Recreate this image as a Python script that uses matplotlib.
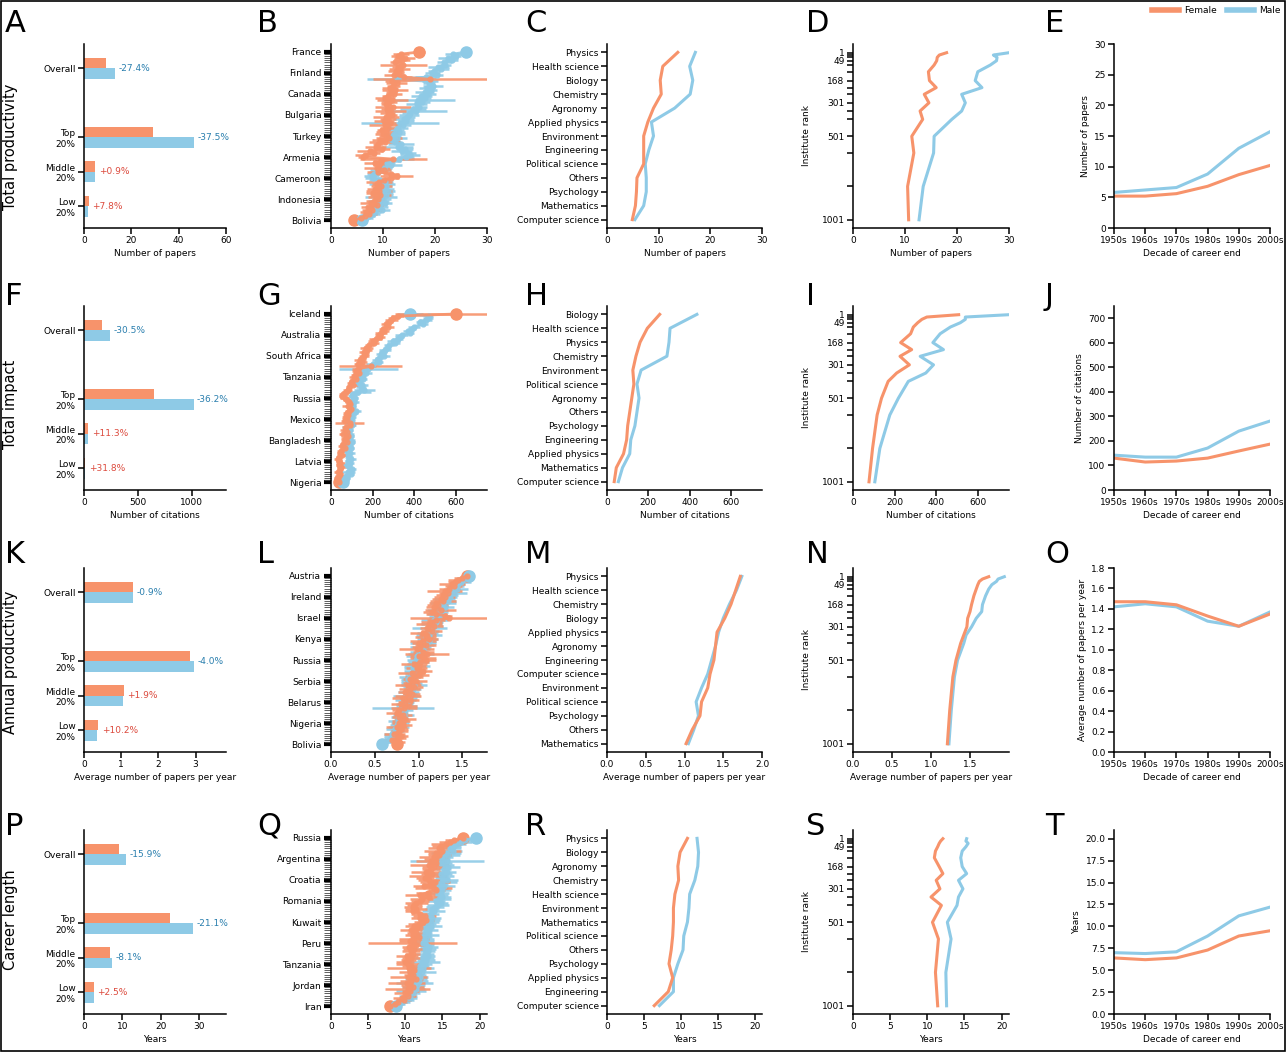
import matplotlib
matplotlib.use('Agg')
import matplotlib.pyplot as plt
import numpy as np
from matplotlib.lines import Line2D
from matplotlib.patches import Rectangle

FEM = '#f7936b'
MAL = '#8ecae6'
NEG = '#2a7fae'
POS = '#dc4a3d'

plt.rcParams['font.family'] = 'DejaVu Sans'
plt.rcParams['font.size'] = 6.5

# ---------------- bar panels (A, F, K, P) ----------------
bar_labels = ['Overall', 'Top\n20%', 'Middle\n20%', 'Low\n20%']
bar_pos = [4, 2, 1, 0]

papers_f = [9.5, 29.0, 4.85, 1.95]
papers_m = [13.1, 46.3, 4.8, 1.8]
papers_pct = ['-27.4%', '-37.5%', '+0.9%', '+7.8%']

cites_f = [165, 650, 38, 10]
cites_m = [238, 1018, 34, 7.6]
cites_pct = ['-30.5%', '-36.2%', '+11.3%', '+31.8%']

annual_f = [1.32, 2.85, 1.07, 0.38]
annual_m = [1.33, 2.97, 1.05, 0.345]
annual_pct = ['-0.9%', '-4.0%', '+1.9%', '+10.2%']

career_f = [9.2, 22.3, 6.7, 2.6]
career_m = [10.9, 28.3, 7.3, 2.5]
career_pct = ['-15.9%', '-21.1%', '-8.1%', '+2.5%']

# ---------------- country panels (B, G, L, Q) ----------------
countries_B = ['France', 'Finland', 'Canada', 'Bulgaria', 'Turkey', 'Armenia', 'Cameroon', 'Indonesia', 'Bolivia']
B_f = [17.0, 13.5, 12.8, 14.2, 13.6, 12.4, 13.9, 12.9, 13.2, 12.5,
       13.0, 12.2, 14.0, 19.0, 11.8, 12.6, 12.0, 11.3, 12.4, 11.6,
       12.1, 11.0, 10.4, 11.8, 11.2, 10.6, 11.9, 10.8, 11.4, 10.9,
       11.7, 10.5, 11.0, 10.2, 11.3, 10.4, 10.9, 9.8, 10.6, 10.0,
       10.5, 11.2, 9.4, 10.3, 9.0, 8.6, 9.9, 7.5, 8.2, 6.6,
       6.2, 12.0, 9.6, 8.4, 9.2, 8.9, 10.1, 9.0, 11.5, 12.6,
       11.6, 10.2, 9.3, 8.8, 9.7, 8.5, 9.2, 8.0, 9.5, 8.7,
       9.1, 8.3, 7.6, 8.8, 7.2, 7.9, 6.8, 7.4, 6.5, 5.8,
       4.5]
B_f_err = [1.0, 1.5, 1.2, 2.0, 1.5, 1.0, 4.5, 1.2, 2.0, 1.5,
           1.0, 2.0, 1.5, 11.0, 1.5, 2.0, 1.2, 1.5, 2.5, 1.0,
           1.5, 1.2, 2.0, 3.0, 1.5, 1.0, 3.5, 1.2, 3.0, 1.5,
           1.0, 2.5, 1.5, 2.0, 1.2, 3.0, 1.5, 1.0, 2.0, 1.5,
           1.2, 2.5, 1.5, 3.0, 1.0, 2.0, 1.5, 2.5, 1.2, 2.0,
           1.0, 6.5, 1.5, 2.0, 1.2, 2.5, 1.5, 2.0, 1.5, 3.2,
           1.5, 1.2, 2.5, 1.0, 2.0, 1.5, 2.5, 1.2, 2.0, 1.5,
           1.0, 1.5, 2.0, 1.2, 1.5, 2.0, 1.2, 1.5, 1.0, 1.2,
           0.5]
B_m = [26.0, 23.5, 24.0, 22.5, 23.2, 21.8, 22.0, 20.6, 21.2, 19.8,
       19.5, 20.4, 18.2, 12.5, 19.0, 18.8, 19.6, 18.5, 19.2, 18.0,
       18.6, 17.4, 18.0, 16.8, 17.5, 16.5, 17.0, 15.8, 16.4, 15.2,
       15.0, 14.6, 14.0, 14.4, 13.2, 13.8, 12.8, 12.5, 13.0, 12.2,
       12.0, 12.6, 11.8, 12.3, 13.5, 12.8, 14.2, 13.6, 14.8, 15.2,
       14.4, 13.0, 11.5, 10.8, 11.6, 10.2, 9.5, 8.8, 8.2, 7.8,
       8.0, 9.4, 10.4, 9.8, 10.6, 10.1, 10.9, 9.9, 10.5, 9.6,
       10.0, 9.2, 10.3, 9.5, 8.9, 9.8, 8.4, 8.0, 7.4, 6.8,
       6.0]
B_m_err = [1.0, 1.5, 1.0, 2.0, 1.2, 1.5, 1.0, 2.0, 1.5, 1.2,
           1.5, 1.2, 2.0, 5.5, 1.5, 1.2, 2.0, 1.5, 1.2, 1.8,
           1.5, 2.0, 1.2, 7.0, 1.5, 2.0, 1.5, 2.5, 6.0, 1.5,
           2.0, 1.5, 2.0, 1.5, 7.5, 1.5, 2.0, 1.5, 1.2, 2.0,
           1.5, 2.0, 1.5, 1.2, 2.5, 3.0, 1.5, 2.0, 1.5, 2.0,
           1.5, 3.0, 2.0, 1.5, 2.0, 1.5, 2.0, 1.5, 1.2, 1.5,
           1.5, 2.0, 1.5, 2.5, 1.2, 2.0, 1.5, 2.0, 1.5, 3.0,
           1.5, 2.0, 1.5, 1.2, 2.0, 1.5, 1.2, 1.5, 1.0, 1.2,
           0.6]

countries_G = ['Iceland', 'Australia', 'South Africa', 'Tanzania', 'Russia', 'Mexico', 'Bangladesh', 'Latvia', 'Nigeria']
G_f = [600, 320, 300, 290, 280, 265, 275, 250, 255, 240,
       230, 235, 215, 200, 205, 185, 170, 175, 160, 165,
       160, 150, 140, 150, 130, 190, 130, 120, 135, 115,
       110, 120, 100, 95, 105, 85, 80, 70, 60, 55,
       65, 75, 85, 90, 80, 95, 85, 75, 80, 70,
       75, 65, 90, 90, 70, 65, 75, 60, 80, 70,
       65, 75, 60, 55, 65, 50, 45, 55, 40, 35,
       40, 45, 38, 50, 42, 35, 45, 38, 30, 35,
       40]
G_f_err = [290, 30, 25, 30, 20, 25, 30, 20, 25, 30,
           20, 25, 30, 20, 25, 20, 30, 20, 25, 20,
           25, 20, 30, 25, 20, 150, 30, 20, 25, 20,
           25, 20, 15, 20, 25, 15, 20, 15, 20, 15,
           20, 15, 20, 15, 25, 20, 20, 15, 20, 15,
           20, 15, 70, 25, 15, 20, 15, 20, 15, 20,
           15, 20, 15, 20, 15, 20, 15, 20, 15, 20,
           15, 20, 15, 20, 15, 20, 15, 20, 15, 20,
           15]
G_m = [380, 470, 465, 455, 430, 440, 400, 390, 370, 380,
       340, 330, 320, 300, 310, 280, 270, 260, 250, 240,
       255, 230, 220, 230, 200, 190, 180, 160, 170, 150,
       145, 155, 130, 135, 150, 145, 160, 130, 110, 100,
       115, 105, 110, 95, 105, 100, 120, 110, 95, 100,
       90, 95, 85, 100, 80, 90, 75, 85, 95, 80,
       90, 100, 85, 80, 95, 75, 90, 80, 85, 95,
       80, 90, 75, 85, 100, 80, 95, 70, 75, 65,
       60]
G_m_err = [60, 20, 25, 30, 20, 25, 30, 20, 25, 20,
           30, 20, 25, 30, 20, 25, 20, 30, 20, 25,
           30, 20, 25, 20, 30, 25, 140, 20, 25, 20,
           25, 20, 25, 20, 30, 25, 50, 60, 25, 20,
           15, 20, 25, 20, 15, 20, 25, 20, 15, 20,
           25, 20, 15, 20, 25, 15, 20, 25, 15, 20,
           25, 15, 20, 25, 15, 20, 25, 15, 20, 25,
           15, 20, 25, 15, 20, 35, 15, 20, 15, 20,
           15]

countries_L = ['Austria', 'Ireland', 'Israel', 'Kenya', 'Russia', 'Serbia', 'Belarus', 'Nigeria', 'Bolivia']
L_f = [1.55, 1.50, 1.45, 1.42, 1.38, 1.40, 1.35, 1.30, 1.33, 1.28,
       1.30, 1.25, 1.28, 1.20, 1.22, 1.18, 1.25, 1.15, 1.20, 1.30,
       1.35, 1.20, 1.15, 1.12, 1.18, 1.10, 1.15, 1.05, 1.10, 1.08,
       1.12, 1.05, 1.00, 1.08, 1.02, 0.98, 1.05, 1.10, 1.00, 1.05,
       1.08, 1.02, 0.95, 1.00, 0.98, 1.05, 0.92, 1.00, 0.95, 0.90,
       0.97, 0.92, 0.88, 0.95, 0.90, 0.85, 0.92, 0.88, 0.82, 0.90,
       0.85, 0.80, 0.88, 0.83, 0.78, 0.75, 0.82, 0.78, 0.85, 0.80,
       0.78, 0.82, 0.75, 0.80, 0.78, 0.72, 0.80, 0.76, 0.70, 0.78,
       0.75]
L_f_err = [0.05, 0.10, 0.12, 0.08, 0.15, 0.10, 0.12, 0.20, 0.10, 0.08,
           0.12, 0.10, 0.15, 0.08, 0.12, 0.10, 0.18, 0.10, 0.12, 0.08,
           0.45, 0.10, 0.12, 0.15, 0.10, 0.08, 0.12, 0.15, 0.10, 0.12,
           0.10, 0.15, 0.08, 0.12, 0.10, 0.20, 0.12, 0.25, 0.10, 0.15,
           0.12, 0.10, 0.15, 0.08, 0.12, 0.10, 0.15, 0.12, 0.10, 0.08,
           0.12, 0.10, 0.15, 0.10, 0.12, 0.08, 0.10, 0.15, 0.12, 0.10,
           0.08, 0.12, 0.10, 0.15, 0.08, 0.12, 0.10, 0.08, 0.12, 0.10,
           0.08, 0.10, 0.12, 0.08, 0.10, 0.12, 0.08, 0.10, 0.08, 0.06,
           0.05]
L_m = [1.58, 1.52, 1.50, 1.48, 1.45, 1.42, 1.44, 1.38, 1.40, 1.35,
       1.36, 1.30, 1.33, 1.28, 1.25, 1.30, 1.22, 1.26, 1.20, 1.24,
       1.22, 1.18, 1.20, 1.15, 1.18, 1.12, 1.15, 1.10, 1.12, 1.08,
       1.10, 1.12, 1.05, 1.08, 1.02, 1.05, 1.00, 1.03, 0.98, 1.00,
       0.97, 1.00, 0.95, 0.98, 0.93, 0.95, 0.92, 0.95, 0.90, 0.88,
       0.90, 0.92, 0.95, 0.90, 0.93, 0.88, 0.90, 0.86, 0.88, 0.85,
       0.87, 0.84, 0.86, 0.82, 0.84, 0.80, 0.83, 0.78, 0.80, 0.77,
       0.79, 0.75, 0.77, 0.73, 0.75, 0.70, 0.72, 0.68, 0.66, 0.62,
       0.58]
L_m_err = [0.05, 0.08, 0.10, 0.12, 0.08, 0.10, 0.12, 0.08, 0.15, 0.10,
           0.08, 0.12, 0.10, 0.15, 0.08, 0.10, 0.12, 0.08, 0.10, 0.12,
           0.10, 0.15, 0.08, 0.12, 0.10, 0.20, 0.08, 0.12, 0.15, 0.10,
           0.12, 0.08, 0.15, 0.10, 0.12, 0.08, 0.10, 0.15, 0.12, 0.08,
           0.10, 0.12, 0.08, 0.15, 0.10, 0.12, 0.08, 0.10, 0.12, 0.08,
           0.10, 0.12, 0.15, 0.08, 0.10, 0.12, 0.08, 0.15, 0.10, 0.12,
           0.08, 0.10, 0.12, 0.35, 0.10, 0.08, 0.12, 0.10, 0.08, 0.12,
           0.10, 0.08, 0.12, 0.10, 0.08, 0.10, 0.12, 0.08, 0.10, 0.06,
           0.05]

countries_Q = ['Russia', 'Argentina', 'Croatia', 'Romania', 'Kuwait', 'Peru', 'Tanzania', 'Jordan', 'Iran']
Q_f = [17.8, 16.5, 16.0, 15.5, 14.8, 14.5, 15.0, 14.2, 14.6, 13.8,
       14.0, 13.5, 14.2, 13.2, 13.8, 13.5, 12.8, 13.6, 13.0, 12.6,
       13.2, 14.0, 13.4, 12.5, 13.8, 14.2, 13.0, 12.0, 13.2, 12.2,
       12.0, 11.5, 11.2, 11.0, 11.4, 11.0, 12.0, 12.6, 12.0, 12.8,
       12.4, 11.8, 11.2, 11.6, 10.8, 11.4, 11.0, 11.8, 11.2, 10.6,
       11.0, 11.5, 10.5, 11.2, 10.8, 11.0, 10.2, 10.8, 10.4, 10.0,
       10.3, 10.8, 10.5, 11.2, 10.6, 11.0, 10.4, 11.4, 10.8, 10.2,
       10.6, 11.0, 10.3, 10.7, 10.0, 10.4, 9.6, 9.8, 9.0, 8.6,
       8.0]
Q_f_err = [0.5, 1.2, 1.5, 2.0, 1.2, 1.5, 2.5, 1.2, 1.5, 2.0,
           1.5, 2.0, 1.2, 2.5, 1.5, 1.2, 2.0, 1.5, 2.5, 1.2,
           1.5, 2.0, 1.2, 1.5, 2.5, 1.2, 1.5, 2.0, 1.2, 1.5,
           1.2, 1.5, 1.0, 1.2, 1.5, 1.0, 1.2, 1.5, 1.2, 1.0,
           1.2, 1.5, 1.2, 1.0, 1.5, 1.2, 1.0, 1.2, 2.0, 1.5,
           6.0, 1.2, 1.0, 1.5, 1.2, 1.0, 1.5, 1.2, 1.0, 1.2,
           1.5, 1.2, 3.0, 1.0, 1.5, 1.2, 2.5, 1.0, 1.5, 2.5,
           1.2, 1.5, 3.0, 1.2, 1.5, 1.0, 1.2, 1.0, 1.2, 0.8,
           0.5]
Q_m = [19.5, 18.0, 17.5, 17.0, 16.5, 16.0, 16.4, 15.5, 15.8, 15.2,
       15.0, 15.6, 14.8, 15.3, 15.8, 15.2, 15.6, 14.8, 15.4, 15.0,
       15.6, 15.0, 14.6, 15.2, 14.8, 15.0, 14.4, 14.8, 15.0, 14.6,
       14.2, 14.8, 14.4, 14.0, 13.6, 13.8, 13.4, 13.0, 13.6, 13.2,
       13.5, 13.0, 13.4, 12.8, 13.2, 12.6, 13.0, 12.4, 12.8, 12.6,
       12.4, 12.8, 13.2, 12.6, 13.0, 12.6, 13.0, 12.4, 12.8, 12.2,
       12.6, 12.0, 12.4, 11.8, 12.2, 11.6, 12.0, 11.4, 11.8, 11.2,
       11.6, 11.0, 11.4, 10.8, 11.0, 10.4, 10.6, 10.0, 9.6, 9.2,
       8.8]
Q_m_err = [0.5, 1.0, 1.5, 1.2, 1.0, 1.5, 1.2, 2.0, 1.5, 1.2,
           1.0, 5.0, 1.5, 1.2, 1.5, 1.0, 1.2, 1.5, 1.2, 1.0,
           1.5, 2.0, 1.2, 1.5, 1.0, 1.2, 1.5, 1.0, 1.2, 1.5,
           1.2, 1.0, 1.5, 1.2, 1.0, 1.5, 1.2, 1.0, 1.2, 1.5,
           1.0, 1.2, 1.5, 1.0, 1.2, 1.0, 1.5, 1.2, 1.0, 1.2,
           1.5, 1.0, 1.2, 1.5, 1.0, 1.2, 1.0, 1.5, 1.2, 2.5,
           1.0, 1.2, 1.5, 1.0, 2.0, 1.2, 1.0, 1.5, 1.2, 2.5,
           1.0, 1.5, 1.2, 2.0, 1.0, 1.2, 1.0, 1.2, 1.0, 0.8,
           0.5]

# ---------------- field panels (C, H, M, R) ----------------
fields_C = ['Physics', 'Health science', 'Biology', 'Chemistry', 'Agronomy', 'Applied physics', 'Environment',
            'Engineering', 'Political science', 'Others', 'Psychology', 'Mathematics', 'Computer science']
C_f = [13.7, 10.8, 10.3, 10.5, 9.0, 7.9, 7.1, 7.1, 7.1, 5.8, 5.7, 5.5, 4.9]
C_m = [17.1, 16.0, 16.6, 16.1, 13.1, 8.6, 9.0, 8.1, 7.4, 7.6, 7.6, 7.1, 5.4]

fields_H = ['Biology', 'Health science', 'Physics', 'Chemistry', 'Environment', 'Political science', 'Agronomy',
            'Others', 'Psychology', 'Engineering', 'Applied physics', 'Mathematics', 'Computer science']
H_f = [255, 195, 160, 140, 125, 130, 120, 110, 100, 95, 80, 45, 35]
H_m = [435, 305, 300, 290, 165, 145, 155, 145, 135, 115, 110, 75, 55]

fields_M = ['Physics', 'Health science', 'Chemistry', 'Biology', 'Applied physics', 'Agronomy', 'Engineering',
            'Computer science', 'Environment', 'Political science', 'Psychology', 'Others', 'Mathematics']
M_f = [1.72, 1.66, 1.60, 1.52, 1.42, 1.40, 1.38, 1.33, 1.30, 1.22, 1.20, 1.10, 1.02]
M_m = [1.74, 1.67, 1.58, 1.50, 1.44, 1.40, 1.35, 1.30, 1.22, 1.15, 1.18, 1.12, 1.05]

fields_R = ['Physics', 'Biology', 'Agronomy', 'Chemistry', 'Health science', 'Environment', 'Mathematics',
            'Political science', 'Others', 'Psychology', 'Applied physics', 'Engineering', 'Computer science']
R_f = [10.9, 9.9, 9.6, 9.7, 9.2, 9.0, 9.0, 8.9, 8.7, 8.4, 8.9, 8.3, 6.4]
R_m = [12.2, 12.4, 12.3, 11.9, 11.2, 11.1, 10.9, 10.4, 10.3, 9.6, 9.0, 9.0, 7.1]

# ---------------- institute rank panels (D, I, N, S) ----------------
ranks = [1, 15, 29, 49, 75, 115, 168, 210, 250, 301, 350, 400, 501, 601, 801, 1001]
rank_labels = [1, 49, 168, 301, 501, 1001]
D_f = [18.0, 16.6, 16.2, 16.1, 15.6, 14.5, 14.7, 16.0, 13.7, 14.6, 12.9, 13.4, 11.3, 11.7, 10.5, 10.7]
D_m = [30.0, 27.0, 27.7, 27.6, 26.4, 24.0, 23.5, 24.8, 20.9, 21.6, 20.9, 19.0, 15.6, 15.5, 13.5, 12.7]
I_f = [508, 355, 331, 311, 290, 277, 229, 282, 226, 271, 210, 169, 137, 116, 94, 77]
I_m = [750, 540, 540, 516, 468, 419, 384, 435, 323, 387, 350, 266, 218, 177, 129, 105]
N_f = [1.74, 1.66, 1.62, 1.60, 1.58, 1.55, 1.52, 1.50, 1.47, 1.46, 1.42, 1.38, 1.32, 1.28, 1.24, 1.21]
N_m = [1.94, 1.86, 1.84, 1.78, 1.74, 1.70, 1.66, 1.65, 1.58, 1.52, 1.45, 1.42, 1.34, 1.30, 1.26, 1.23]
S_f = [12.1, 11.8, 11.6, 11.4, 11.1, 10.95, 11.6, 12.1, 11.2, 11.7, 10.5, 11.9, 10.7, 11.5, 11.1, 11.4]
S_m = [15.3, 15.2, 15.5, 15.2, 14.7, 14.5, 14.7, 15.3, 14.2, 14.8, 14.2, 14.0, 12.7, 13.2, 12.5, 12.6]

# ---------------- decade panels (E, J, O, T) ----------------
decades = ['1950s', '1960s', '1970s', '1980s', '1990s', '2000s']
E_f = [5.2, 5.2, 5.6, 6.8, 8.7, 10.2]
E_m = [5.8, 6.2, 6.6, 8.8, 13.0, 15.7]
J_f = [130, 114, 118, 130, 159, 187]
J_m = [142, 134, 134, 171, 240, 281]
O_f = [1.47, 1.47, 1.44, 1.33, 1.23, 1.35]
O_m = [1.42, 1.45, 1.42, 1.28, 1.23, 1.37]
T_f = [6.4, 6.2, 6.4, 7.3, 8.9, 9.5]
T_m = [7.0, 6.9, 7.1, 8.9, 11.2, 12.2]

W, H = 1286, 1052
fig = plt.figure(figsize=(W / 100, H / 100), dpi=100)


def add_ax(left, top, width, height=184):
    return fig.add_axes([left / W, (H - top - height) / H, width / W, height / H])


def style(ax):
    for s in ['top', 'right']:
        ax.spines[s].set_visible(False)
    for s in ['left', 'bottom']:
        ax.spines[s].set_linewidth(1.1)
    ax.tick_params(length=4, width=1.1, labelsize=6.5, pad=2)


def bar_panel(ax, fem, mal, pct, xmax, xticks, xlabel):
    style(ax)
    pos = np.array(bar_pos, dtype=float)
    ax.barh(pos + 0.15, fem, height=0.3, color=FEM)
    ax.barh(pos - 0.15, mal, height=0.3, color=MAL)
    for p, f, m, t in zip(pos, fem, mal, pct):
        ax.text(max(f, m) + 0.025 * xmax, p, t, va='center', ha='left', fontsize=6.5,
                color=NEG if t.startswith('-') else POS)
    ax.set_yticks(pos, bar_labels)
    ax.set_ylim(-0.63, 4.7)
    ax.set_xlim(0, xmax)
    ax.set_xticks(xticks)
    ax.set_xlabel(xlabel, fontsize=6.5, labelpad=3)


def country_panel(ax, names, fem, fem_err, mal, mal_err, xmax, xticks, xlabel):
    style(ax)
    y = np.arange(len(fem))
    for vals, err, col in [(mal, mal_err, MAL), (fem, fem_err, FEM)]:
        ax.errorbar(vals, y, xerr=err, color=col, ecolor=col, lw=2.0, elinewidth=1.8,
                    marker='o', ms=3.5, capsize=0, alpha=0.9)
    for vals, col in [(fem, FEM), (mal, MAL)]:
        ax.plot([vals[0], vals[-1]], [y[0], y[-1]], 'o', color=col, ms=8)
    major = y[::10]
    ax.set_yticks(major, names)
    ax.set_yticks(np.setdiff1d(y, major), minor=True)
    ax.tick_params(axis='y', which='major', length=5, width=3)
    ax.tick_params(axis='y', which='minor', length=5, width=0.6, color='#444444')
    ax.set_ylim(83.8, -3.8)
    ax.set_xlim(0, xmax)
    ax.set_xticks(xticks)
    ax.set_xlabel(xlabel, fontsize=6.5, labelpad=3)


def field_panel(ax, names, fem, mal, xmax, xticks, xlabel):
    style(ax)
    y = np.arange(len(names))
    ax.plot(mal, y, color=MAL, lw=2.2)
    ax.plot(fem, y, color=FEM, lw=2.2)
    ax.set_yticks(y, names)
    ax.set_ylim(12.6, -0.6)
    ax.set_xlim(0, xmax)
    ax.set_xticks(xticks)
    ax.set_xlabel(xlabel, fontsize=6.5, labelpad=3)


def rank_panel(ax, fem, mal, xmax, xticks, xlabel):
    style(ax)
    ax.plot(mal, ranks, color=MAL, lw=2.2)
    ax.plot(fem, ranks, color=FEM, lw=2.2)
    ax.set_yticks(ranks, [str(r) if r in rank_labels else '' for r in ranks])
    ax.set_ylim(1050, -51)
    ax.set_ylabel('Institute rank', fontsize=6.5, labelpad=8)
    ax.set_xlim(0, xmax)
    ax.set_xticks(xticks)
    ax.set_xlabel(xlabel, fontsize=6.5, labelpad=3)


def decade_panel(ax, fem, mal, ymax, yticks, ylabel, fmt=None):
    style(ax)
    x = np.arange(len(decades))
    ax.plot(x, mal, color=MAL, lw=2.2)
    ax.plot(x, fem, color=FEM, lw=2.2)
    ax.set_xticks(x, decades)
    ax.set_xlim(0, 5)
    ax.set_ylim(0, ymax)
    if fmt:
        ax.set_yticks(yticks, [fmt.format(v) for v in yticks])
    else:
        ax.set_yticks(yticks)
    ax.set_ylabel(ylabel, fontsize=6.5, labelpad=3)
    ax.set_xlabel('Decade of career end', fontsize=6.5, labelpad=3)


cols = [(84, 142), (331, 156), (607, 155), (853, 156), (1114, 156)]
tops = [44, 306, 568, 830]

# row 1
bar_panel(add_ax(cols[0][0], tops[0], cols[0][1]), papers_f, papers_m, papers_pct, 60, [0, 20, 40, 60], 'Number of papers')
country_panel(add_ax(cols[1][0], tops[0], cols[1][1]), countries_B, B_f, B_f_err, B_m, B_m_err, 30, [0, 10, 20, 30], 'Number of papers')
field_panel(add_ax(cols[2][0], tops[0], cols[2][1]), fields_C, C_f, C_m, 30, [0, 10, 20, 30], 'Number of papers')
rank_panel(add_ax(cols[3][0], tops[0], cols[3][1]), D_f, D_m, 30, [0, 10, 20, 30], 'Number of papers')
decade_panel(add_ax(cols[4][0], tops[0], cols[4][1]), E_f, E_m, 30, [0, 5, 10, 15, 20, 25, 30], 'Number of papers')

# row 2
bar_panel(add_ax(cols[0][0], tops[1], cols[0][1]), cites_f, cites_m, cites_pct, 1320, [0, 500, 1000], 'Number of citations')
country_panel(add_ax(cols[1][0], tops[1], cols[1][1]), countries_G, G_f, G_f_err, G_m, G_m_err, 750, [0, 200, 400, 600], 'Number of citations')
field_panel(add_ax(cols[2][0], tops[1], cols[2][1]), fields_H, H_f, H_m, 750, [0, 200, 400, 600], 'Number of citations')
rank_panel(add_ax(cols[3][0], tops[1], cols[3][1]), I_f, I_m, 750, [0, 200, 400, 600], 'Number of citations')
decade_panel(add_ax(cols[4][0], tops[1], cols[4][1]), J_f, J_m, 750, [0, 100, 200, 300, 400, 500, 600, 700], 'Number of citations')

# row 3
bar_panel(add_ax(cols[0][0], tops[2], cols[0][1]), annual_f, annual_m, annual_pct, 3.82, [0, 1, 2, 3], 'Average number of papers per year')
country_panel(add_ax(cols[1][0], tops[2], cols[1][1]), countries_L, L_f, L_f_err, L_m, L_m_err, 1.78, [0, 0.5, 1.0, 1.5], 'Average number of papers per year')
field_panel(add_ax(cols[2][0], tops[2], cols[2][1]), fields_M, M_f, M_m, 2.0, [0, 0.5, 1.0, 1.5, 2.0], 'Average number of papers per year')
rank_panel(add_ax(cols[3][0], tops[2], cols[3][1]), N_f, N_m, 2.0, [0, 0.5, 1.0, 1.5], 'Average number of papers per year')
decade_panel(add_ax(cols[4][0], tops[2], cols[4][1]), O_f, O_m, 1.8, [0, 0.2, 0.4, 0.6, 0.8, 1.0, 1.2, 1.4, 1.6, 1.8],
             'Average number of papers per year', fmt='{:.1f}')

# row 4
bar_panel(add_ax(cols[0][0], tops[3], cols[0][1]), career_f, career_m, career_pct, 37, [0, 10, 20, 30], 'Years')
country_panel(add_ax(cols[1][0], tops[3], cols[1][1]), countries_Q, Q_f, Q_f_err, Q_m, Q_m_err, 21, [0, 5, 10, 15, 20], 'Years')
field_panel(add_ax(cols[2][0], tops[3], cols[2][1]), fields_R, R_f, R_m, 21, [0, 5, 10, 15, 20], 'Years')
rank_panel(add_ax(cols[3][0], tops[3], cols[3][1]), S_f, S_m, 21, [0, 5, 10, 15, 20], 'Years')
decade_panel(add_ax(cols[4][0], tops[3], cols[4][1]), T_f, T_m, 21, [0, 2.5, 5, 7.5, 10, 12.5, 15, 17.5, 20],
             'Years', fmt='{:.1f}')

# panel letters
letters = ['ABCDE', 'FGHIJ', 'KLMNO', 'PQRST']
letter_x = [5, 257, 525, 806, 1045]
letter_y = [32, 305, 563, 835]
for r in range(4):
    for c in range(5):
        fig.text(letter_x[c] / W, 1 - letter_y[r] / H, letters[r][c], fontsize=22,
                 ha='left', va='baseline')

# row titles
row_titles = ['Total productivity', 'Total impact', 'Annual productivity', 'Career length']
row_centres = [147, 404, 662, 920]
for t, yc in zip(row_titles, row_centres):
    fig.text(11 / W, 1 - yc / H, t, rotation=90, fontsize=10.5, ha='center', va='center')

# legend
handles = [Line2D([], [], color=FEM, lw=4), Line2D([], [], color=MAL, lw=4)]
fig.legend(handles, ['Female', 'Male'], loc='upper right', bbox_to_anchor=(0.997, 0.996), ncol=2,
           frameon=False, fontsize=6.5, handlelength=3.0, columnspacing=1.2, handletextpad=0.5,
           borderaxespad=0.1, borderpad=0.1)

fig.add_artist(Rectangle((0.0008, 0.001), 0.9985, 0.998, transform=fig.transFigure,
                         fill=False, lw=1.2, color='black'))

fig.savefig('out.png', dpi=100)
